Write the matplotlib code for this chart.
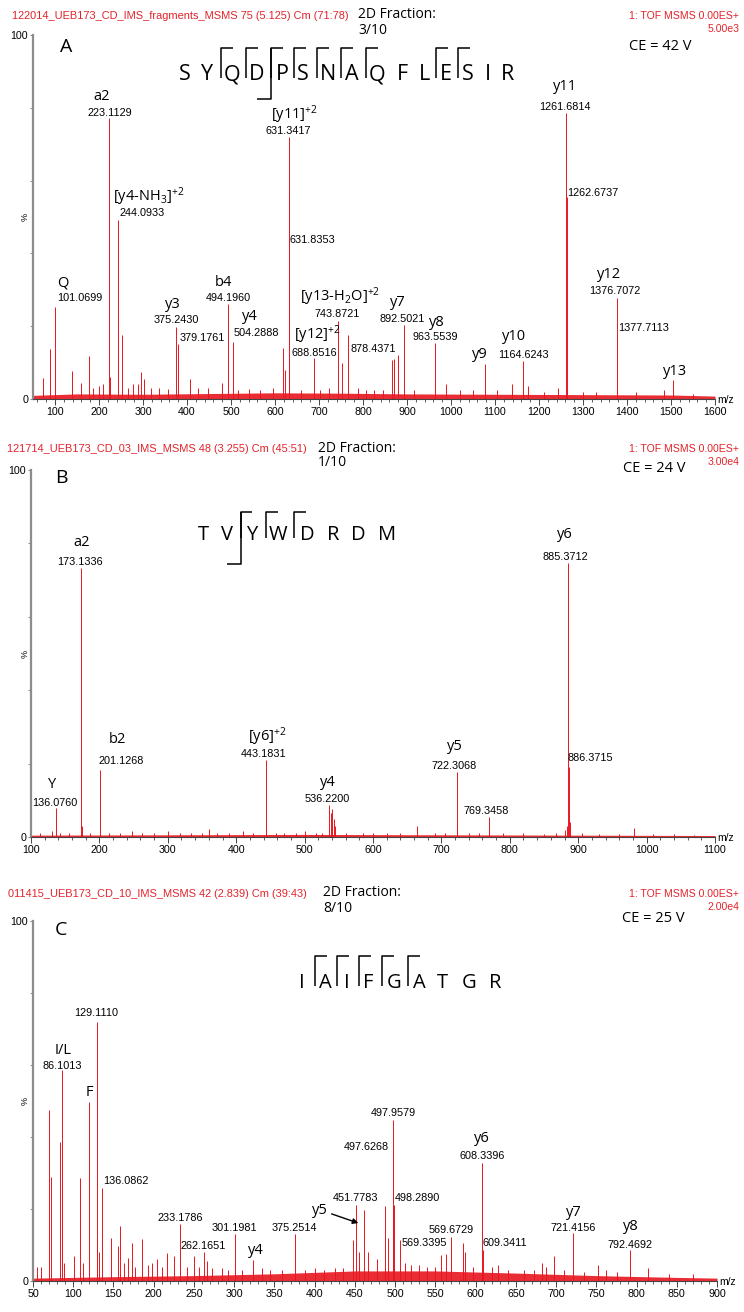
import matplotlib
matplotlib.use("Agg")
import matplotlib.pyplot as plt
from matplotlib.lines import Line2D
from matplotlib.patches import FancyArrowPatch
from matplotlib.ticker import MultipleLocator

plt.rcParams['font.family'] = ['Liberation Sans', 'DejaVu Sans']
plt.rcParams['mathtext.fontset'] = 'custom'
plt.rcParams['mathtext.rm'] = 'Open Sans'
plt.rcParams['mathtext.it'] = 'Open Sans:italic'
plt.rcParams['mathtext.bf'] = 'Open Sans:bold'

# ---------------------------------------------------------------- data
# Panel A: SYQDPSNAQFLESIR, CE 42 V
A_mz = [101.0699, 223.1129, 244.0933, 375.2430, 379.1761, 494.1960, 504.2888,
        631.3417, 631.8353, 688.8516, 743.8721, 878.4371, 892.5021, 963.5539,
        1077.6, 1164.6243, 1261.6814, 1262.6737, 1376.7072, 1377.7113, 1504.8]
A_pct = [25.3, 77.2, 49.2, 19.8, 15.0, 26.0, 15.7,
         72.0, 56.6, 11.3, 21.4, 12.0, 20.3, 15.4,
         9.6, 10.4, 78.6, 55.5, 27.7, 17.0, 5.2]
A_minor_mz = [72.7, 88.6, 138.0, 159.0, 177.0, 186.0, 201.0, 209.0, 226.0, 252.0,
              265.0, 277.0, 288.0, 294.6, 302.0, 318.0, 337.0, 356.0, 407.0, 425.0,
              448.0, 479.0, 516.0, 541.0, 566.0, 596.0, 619.0, 622.0, 660.0, 702.0,
              722.0, 752.0, 766.0, 788.0, 806.0, 826.0, 846.0, 866.0, 871.0, 916.0,
              989.0, 1020.0, 1049.0, 1104.0, 1138.0, 1175.0, 1212.0, 1244.0, 1299.0,
              1330.0, 1420.0, 1484.0, 1550.0]
A_minor_pct = [5.8, 13.7, 7.7, 4.5, 11.8, 3.0, 3.5, 4.0, 6.0, 17.6,
               3.0, 4.0, 4.2, 7.4, 5.5, 3.0, 3.0, 2.8, 5.5, 3.0,
               3.0, 4.5, 2.5, 2.8, 2.5, 3.0, 14.0, 8.0, 2.5, 2.5,
               3.0, 10.0, 17.6, 3.0, 2.5, 2.5, 2.5, 10.7, 11.0, 2.5,
               4.0, 2.5, 2.5, 2.5, 4.0, 3.5, 2.0, 3.0, 2.0,
               2.0, 2.0, 2.5, 1.5]
A_floor_mz = [50, 150, 300, 450, 600, 750, 900, 1100, 1300, 1500, 1600]
A_floor_pct = [1.0, 1.4, 1.3, 1.5, 1.7, 1.6, 1.4, 1.3, 1.2, 1.1, 0.8]

# Panel B: TVYWDRDM, CE 24 V
B_mz = [136.0760, 173.1336, 201.1268, 443.1831, 536.2200, 722.3068, 769.3458,
        885.3712, 886.3715]
B_pct = [7.9, 73.3, 18.3, 21.0, 8.7, 17.7, 5.4, 74.7, 19.0]
B_minor_mz = [113, 130, 142, 155, 174.1, 186, 214, 230, 248, 262, 280, 300, 318,
              334, 350, 360, 372, 390, 410, 425, 444.2, 458, 470, 488, 500, 516,
              526, 538.2, 540.2, 542.3, 544.2, 560, 585, 600, 620, 640, 665, 690,
              705, 723.3, 740, 755, 770.3, 790, 820, 850, 867, 880.5, 883.4, 887.4,
              905, 930, 960, 981, 1010, 1040, 1070]
B_minor_pct = [1.0, 1.5, 1.0, 1.2, 3.0, 1.0, 1.2, 1.0, 1.5, 1.0, 1.2, 1.5, 1.0,
               1.2, 1.0, 2.2, 1.0, 1.2, 1.5, 1.0, 3.0, 1.0, 1.2, 1.0, 1.5, 1.0,
               1.2, 6.5, 7.5, 5.0, 3.0, 1.0, 1.0, 1.2, 1.0, 1.0, 3.0, 1.0,
               1.0, 3.0, 1.0, 1.0, 2.0, 1.0, 1.0, 0.8, 1.0, 2.0, 3.0, 4.0,
               1.0, 0.8, 0.8, 2.5, 0.8, 0.8, 0.6]
B_floor_mz = [100, 300, 500, 700, 900, 1100]
B_floor_pct = [0.5, 0.6, 0.7, 0.6, 0.5, 0.4]

# Panel C: IAIFGATGR, CE 25 V
C_mz = [86.1013, 120.08, 129.1110, 136.0862, 233.1786, 262.1651, 301.1981,
        323.2, 375.2514, 451.7783, 497.6268, 497.9579, 498.2890, 569.3395,
        569.6729, 608.3396, 609.3411, 721.4156, 792.4692]
C_pct = [58.5, 49.8, 72.0, 25.7, 15.8, 8.1, 13.0,
         5.8, 13.0, 21.0, 36.4, 44.7, 21.0, 9.0,
         12.3, 32.7, 8.6, 13.3, 8.6]
C_minor_mz = [54.5, 59.5, 70.07, 72.08, 84.04, 88.0, 101.0, 108.8, 112.0, 130.1,
              132.5, 147.1, 155.5, 158.5, 163.0, 168.5, 172.6, 177.0, 185.1, 193.0,
              198.0, 204.5, 210.0, 216.0, 225.5, 241.0, 250.5, 256.0, 266.0, 273.0,
              285.0, 292.0, 310.0, 335.0, 345.0, 360.0, 388.0, 400.0, 412.0, 425.0,
              435.0, 447.3, 455.0, 461.2, 466.0, 478.0, 487.5, 490.8, 506.0, 512.0,
              520.0, 530.0, 540.0, 549.0, 557.0, 563.0, 584.0, 586.5, 597.0, 621.0,
              628.0, 640.0, 660.0, 672.0, 682.5, 688.0, 697.0, 710.0, 735.0, 752.5,
              762.0, 776.0, 814.0, 840.0, 870.0]
C_minor_pct = [4.0, 4.0, 47.5, 29.0, 38.7, 5.0, 7.0, 28.5, 5.0, 12.0,
               8.0, 11.9, 9.7, 15.3, 5.0, 6.5, 10.5, 4.0, 11.7, 4.5,
               5.0, 6.0, 4.0, 7.9, 7.0, 4.0, 6.9, 4.0, 5.5, 3.5,
               3.5, 3.0, 3.0, 3.5, 3.0, 3.0, 3.0, 3.5, 3.0, 3.5,
               3.5, 11.4, 8.0, 19.7, 8.0, 6.0, 20.8, 11.9, 11.4, 5.0,
               4.5, 4.5, 4.0, 4.0, 7.2, 7.5, 10.6, 8.0, 4.0, 4.0,
               4.5, 3.0, 3.0, 3.0, 5.0, 4.0, 7.0, 3.0, 2.5, 4.5,
               3.0, 2.5, 3.5, 2.0, 2.0]
C_floor_mz = [50, 150, 250, 350, 450, 550, 650, 750, 850, 900]
C_floor_pct = [0.8, 1.2, 1.5, 2.0, 2.8, 2.8, 2.2, 1.5, 1.0, 0.8]

# ---------------------------------------------------------------- style
W, H = 744, 1312
RED = '#e3232b'
PEAK = '#e8161e'
NUM = 'Liberation Sans'
HUM = 'Open Sans'

fig = plt.figure(figsize=(W / 100, H / 100), dpi=100)
fig.patch.set_facecolor('white')


def put(x, y, s, size=7.8, family=NUM, color='black', ha='center', **kw):
    fig.text(x / W, 1 - y / H, s, fontsize=size, family=family, color=color,
             ha=ha, va='center', **kw)


def ion(x, y, s, size=10.5):
    put(x, y, s, size=size, family=HUM)


def seg(xs, ys, color='black', lw=1.1):
    fig.add_artist(Line2D([v / W for v in xs], [1 - v / H for v in ys],
                          transform=fig.transFigure, color=color, lw=lw,
                          solid_capstyle='butt'))


def panel(box, xlim, step, minor, mz, pct, mmz, mpct, fmz, fpct):
    x0, x1, ytop, ybot = box
    ax = fig.add_axes([x0 / W, 1 - ybot / H, (x1 - x0) / W, (ybot - ytop) / H])
    ax.set_xlim(*xlim)
    ax.set_ylim(0, 100)
    ax.patch.set_alpha(0)
    ax.fill_between(fmz, 0, fpct, color=PEAK, lw=0, alpha=0.9)
    ax.vlines(mmz, 0, mpct, color=PEAK, lw=0.7)
    ax.vlines(mz, 0, pct, color=PEAK, lw=0.7)
    for s in ('top', 'right'):
        ax.spines[s].set_visible(False)
    ax.spines['left'].set_color('#8c8c8c')
    ax.spines['left'].set_linewidth(1.6)
    ax.spines['bottom'].set_color('#444444')
    ax.spines['bottom'].set_linewidth(0.8)
    first = xlim[0] if xlim[0] % step == 0 else (xlim[0] // step + 1) * step
    ax.set_xticks(list(range(int(first), int(xlim[1]) + 1, step)))
    ax.xaxis.set_minor_locator(MultipleLocator(minor))
    ax.tick_params(axis='x', which='major', length=4, width=0.7, color='#444444',
                   labelsize=7.7, pad=1.5)
    ax.tick_params(axis='x', which='minor', length=2.5, width=0.6, color='#444444')
    ax.set_yticks([0, 100])
    ax.set_yticklabels(['0', '100'])
    ax.set_yticks([20, 40, 60, 80], minor=True)
    ax.tick_params(axis='y', which='major', length=2.5, width=0.8, color='#8c8c8c',
                   labelsize=7.7, pad=1)
    ax.tick_params(axis='y', which='minor', length=2, width=0.7, color='#8c8c8c')
    put(x1 + 11, ybot + 1, 'm/z', size=7.5)
    put(25, (ytop + ybot) / 2, '%', size=6.5, rotation=90)
    return ax


def sequence(letters, centers, ymid, ytop, ymarks, bmarks, bbot, size):
    for ch, xc in zip(letters, centers):
        put(xc, ymid, ch, size=size, family=HUM)
    for i in ymarks:
        xv = (centers[i - 1] + centers[i]) / 2 + 1
        seg([xv, xv, xv + 12], [ymid + 3, ytop, ytop])
    for i in bmarks:
        xv = (centers[i] + centers[i + 1]) / 2 + 1
        seg([xv - 14, xv, xv], [bbot, bbot, ytop])


def header(y, name, frac, scale, ce, letter, x_name, x_frac, x_ce, y_ce,
           x_letter, y_letter):
    put(x_name, y, name, size=7.9, color=RED, ha='left')
    put(x_frac, y - 1, '2D Fraction:', size=10, family=HUM, ha='left')
    put(x_frac, y + 14, frac, size=10, family=HUM, ha='left')
    put(739, y, '1: TOF MSMS 0.00ES+', size=7.6, color=RED, ha='right')
    put(740, y + 13, scale, size=7.6, color=RED, ha='right')
    put(x_ce, y_ce, ce, size=10.5, family=HUM, ha='left')
    put(x_letter, y_letter, letter, size=14, family=HUM, ha='left')


# ---------------------------------------------------------------- panel A
panel((33, 715, 35, 399), (50, 1600), 100, 20, A_mz, A_pct,
      A_minor_mz, A_minor_pct, A_floor_mz, A_floor_pct)
header(16, '122014_UEB173_CD_IMS_fragments_MSMS 75 (5.125) Cm (71:78)', '3/10',
       '5.00e3', 'CE = 42 V', 'A', 12, 358, 629, 46, 60, 47)
sequence('SYQDPSNAQFLESIR',
         [185, 207, 232, 257, 282, 303, 328, 352, 377, 402, 424, 446, 468, 488, 508],
         75, 48, [2, 3, 4, 5, 6, 7, 8, 11, 12], [3], 99, 15.5)

ion(102, 96, 'a2')
put(110, 113, '223.1129')
ion(294, 115, '[y11]$^{+2}$')
put(288, 131, '631.3417')
ion(149, 197, '[y4-NH$_3$]$^{+2}$')
put(142, 213, '244.0933')
put(290, 240, '631.8353', ha='left')
ion(63, 283, 'Q')
put(80, 298, '101.0699')
ion(173, 304, 'y3')
put(176, 320, '375.2430')
put(180, 338, '379.1761', ha='left')
ion(223, 282, 'b4')
put(228, 298, '494.1960')
ion(250, 317, 'y4')
put(234, 333, '504.2888', ha='left')
ion(317, 335, '[y12]$^{+2}$')
put(314, 353, '688.8516')
ion(340, 297, '[y13-H$_2$O]$^{+2}$')
put(337, 314, '743.8721')
put(396, 349, '878.4371', ha='right')
ion(398, 303, 'y7')
put(402, 319, '892.5021')
ion(437, 323, 'y8')
put(435, 337, '963.5539')
ion(480, 354, 'y9')
ion(514, 337, 'y10')
put(523, 355, '1164.6243')
ion(565, 87, 'y11')
put(565, 107, '1261.6814')
put(567, 193, '1262.6737', ha='left')
ion(609, 275, 'y12')
put(615, 291, '1376.7072')
put(618, 328, '1377.7113', ha='left')
ion(675, 372, 'y13')

# ---------------------------------------------------------------- panel B
panel((31, 715, 470, 837), (100, 1100), 100, 20, B_mz, B_pct,
      B_minor_mz, B_minor_pct, B_floor_mz, B_floor_pct)
header(449, '121714_UEB173_CD_03_IMS_MSMS 48 (3.255) Cm (45:51)', '1/10',
       '3.00e4', 'CE = 24 V', 'B', 7, 318, 623, 468, 55, 478)
sequence('TVYWDRDM', [203, 227, 252, 278, 307, 333, 358, 387],
         535, 512, [2, 3, 4], [1], 564, 14.5)

ion(82, 543, 'a2')
put(80, 562, '173.1336')
ion(117, 740, 'b2')
put(121, 761, '201.1268')
ion(52, 785, 'Y')
put(55, 803, '136.0760')
ion(267, 737, '[y6]$^{+2}$')
put(264, 754, '443.1831')
ion(328, 782, 'y4')
put(327, 799, '536.2200')
ion(455, 747, 'y5')
put(454, 766, '722.3068')
put(567, 758, '886.3715', ha='left')
put(486, 811, '769.3458')
ion(565, 535, 'y6')
put(565, 557, '885.3712')

# ---------------------------------------------------------------- panel C
panel((33, 717, 921, 1281), (50, 900), 50, 10, C_mz, C_pct,
      C_minor_mz, C_minor_pct, C_floor_mz, C_floor_pct)
header(894, '011415_UEB173_CD_10_IMS_MSMS 42 (2.839) Cm (39:43)', '8/10',
       '2.00e4', 'CE = 25 V', 'C', 8, 323, 622, 918, 55, 930)
sequence('IAIFGATGR', [302, 325, 347, 368, 394, 419, 442, 469, 495],
         983, 956, [1, 2, 3, 4, 5], [], 0, 14.5)

put(96, 1013, '129.1110')
ion(63, 1050, 'I/L')
put(62, 1066, '86.1013')
ion(89, 1092, 'F')
put(103, 1181, '136.0862', ha='left')
put(180, 1218, '233.1786')
put(203, 1246, '262.1651')
put(234, 1228, '301.1981')
ion(256, 1250, 'y4')
put(294, 1228, '375.2514')
put(333, 1198, '451.7783', ha='left')
ion(320, 1210, 'y5')
fig.add_artist(FancyArrowPatch((329 / W, 1 - 1213 / H), (361 / W, 1 - 1224 / H),
                               transform=fig.transFigure, arrowstyle='-|>',
                               mutation_scale=8, lw=1.0, color='black'))
put(389, 1147, '497.6268', ha='right')
put(371, 1113, '497.9579', ha='left')
put(395, 1198, '498.2890', ha='left')
ion(482, 1138, 'y6')
put(482, 1156, '608.3396')
put(451, 1230, '569.6729')
put(424, 1243, '569.3395')
put(505, 1243, '609.3411')
ion(574, 1212, 'y7')
put(573, 1228, '721.4156')
ion(631, 1226, 'y8')
put(630, 1245, '792.4692')

fig.savefig('out.png', dpi=100, facecolor='white')
